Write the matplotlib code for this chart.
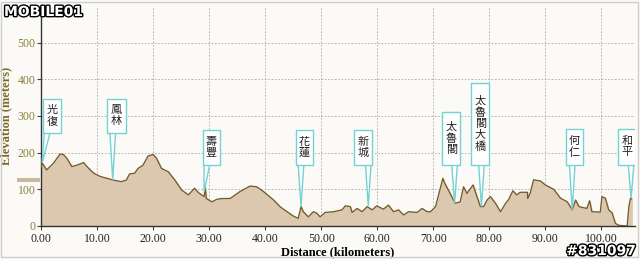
import numpy as np
import matplotlib.pyplot as plt
from matplotlib.patches import Polygon, Rectangle
import matplotlib.patheffects as pe

# elevation profile
dist_km = [0.0, 0.2, 1.0, 2.2, 3.4, 4.0, 4.6, 5.5, 6.4, 7.6, 8.2, 9.4, 10.6, 11.8, 13.0,
           14.3, 15.2, 15.8, 16.7, 17.3, 18.2, 19.1, 20.0, 20.6, 21.5, 22.7, 23.9, 25.1,
           26.3, 27.4, 28.1, 29.1, 29.3, 29.5, 30.5, 31.4, 32.3, 33.75, 35.5, 37.3, 38.5,
           39.7, 41.5, 42.7, 43.9, 45.05, 45.9, 46.4, 46.8, 47.7, 48.6, 49.2, 49.8, 50.7,
           52.2, 53.7, 54.3, 55.2, 55.5, 56.4, 57.3, 58.2, 59.1, 59.9, 61.1, 62.0, 62.9,
           63.8, 64.7, 65.6, 67.1, 68.0, 68.9, 69.5, 70.4, 71.25, 71.7, 72.1, 73.0, 73.9,
           74.8, 75.4, 76.0, 77.1, 77.8, 78.4, 79.0, 79.6, 80.2, 81.1, 82.0, 82.9, 83.4,
           84.2, 84.9, 85.5, 86.8, 86.85, 87.3, 87.9, 89.1, 90.0, 91.5, 92.7, 93.9, 94.8,
           95.4, 96.0, 97.4, 97.9, 98.3, 99.8, 100.1, 100.7, 101.3, 101.9, 102.5, 103.1,
           104.6, 104.9, 105.2, 105.4]
elev_m = [160, 172, 153, 171, 196, 195, 185, 162, 166, 173, 162, 144, 135, 130, 125,
          121, 125, 142, 144, 157, 166, 191, 195, 185, 157, 148, 125, 98,
          85, 103, 91, 80, 105, 75, 66, 73, 75, 75, 94, 109, 107,
          94, 71, 52, 39, 27, 21, 53, 39, 25, 39, 35, 25, 37,
          39, 44, 55, 53, 37, 48, 39, 53, 44, 55, 46, 57, 39,
          44, 30, 39, 37, 48, 39, 39, 53, 103, 130, 115, 89, 62,
          66, 107, 89, 112, 80, 53, 53, 71, 80, 62, 39, 62, 71,
          96, 85, 92, 92, 75, 90, 126, 123, 112, 100, 76, 66, 44,
          71, 53, 48, 69, 39, 38, 80, 76, 44, 36, 7, 2,
          0, 53, 76, 74]

# place-name callouts
town_names = ["光復", "鳳林", "壽豐", "花蓮", "新城", "太魯閣", "太魯閣大橋", "何仁", "和平"]
tip_km = [0.2, 12.8, 29.1, 46.4, 58.4, 73.8, 78.6, 94.8, 105.3]
tip_m = [172, 126, 93, 53, 55, 62, 53, 44, 76]
box_left_km = [0.4, 11.8, 28.9, 45.5, 55.9, 71.6, 76.8, 93.6, 103.0]
box_right_km = [3.6, 15.2, 31.9, 48.6, 59.1, 74.8, 80.0, 96.8, 106.2]
box_top_m = [347, 347, 262, 262, 262, 311, 391, 265, 265]
box_bottom_m = [254, 254, 167, 167, 167, 167, 167, 167, 167]

x_ticks = np.arange(0, 101, 10)
y_ticks = np.arange(0, 501, 100)

plt.rcParams['font.family'] = ['Liberation Serif', 'Noto Sans CJK TC', 'DejaVu Sans']

fig = plt.figure(figsize=(6.4, 2.59), dpi=100, facecolor='#fbfaf6')
ax = fig.add_axes([41 / 640, 33 / 259, 594 / 640, 220 / 259])
ax.set_facecolor('#fbfaf6')

ax.fill_between(dist_km, elev_m, 0, color='#dcc8ae', zorder=2)
ax.plot(dist_km, elev_m, color='#6e5a2c', lw=0.9, zorder=3)

ax.set_xlim(0, 106)
ax.set_ylim(0, 600)
ax.set_xticks(x_ticks)
ax.set_xticklabels([f"{v:.2f}" for v in x_ticks], fontsize=8.5, color='#222222')
ax.set_yticks(y_ticks)
ax.set_yticklabels([str(v) for v in y_ticks], fontsize=8.5, color='#8c7f3e')
ax.grid(True, color='#aaaaaa', ls=(0, (2, 2)), lw=0.6, zorder=1)
ax.tick_params(axis='both', length=3, width=0.8, color='#444444', pad=1)
ax.tick_params(axis='x', pad=2)
for s in ['top', 'right']:
    ax.spines[s].set_visible(False)
for s in ['left', 'bottom']:
    ax.spines[s].set_color('#333333')
    ax.spines[s].set_linewidth(1.0)

ax.set_xlabel("Distance (kilometers)", fontsize=9, fontweight='bold', labelpad=1)
ax.set_ylabel("Elevation (meters)", fontsize=9, fontweight='bold', color='#7a6a2a', labelpad=4)

# callout boxes with pointers
for name, tx, ty, bl, br, bt, bb in zip(town_names, tip_km, tip_m, box_left_km,
                                          box_right_km, box_top_m, box_bottom_m):
    bc = min(max(tx, bl + 0.7), br - 0.7)
    ptr = Polygon([[bc - 0.5, bb], [tx, ty], [bc + 0.5, bb]], closed=False,
                  facecolor='white', edgecolor='#72d2d6', lw=1.0, zorder=4)
    ax.add_patch(ptr)
    box = Rectangle((bl, bb), br - bl, bt - bb, facecolor='white',
                    edgecolor='#72d2d6', lw=1.0, zorder=5)
    ax.add_patch(box)
    ax.text((bl + br) / 2, (bt + bb) / 2, "\n".join(name), ha='center', va='center',
            fontsize=8, linespacing=1.15, family=['Noto Sans CJK TC', 'DejaVu Sans'],
            color='#222222', zorder=6)

# frame, logo and slider mark
fig.patches.append(Rectangle((1 / 640, 2 / 259), 637 / 640, 255 / 259, transform=fig.transFigure,
                             fill=False, edgecolor='#cfcfcf', lw=1.0))
fig.patches.append(Rectangle((17 / 640, 77 / 259), 23 / 640, 4 / 259, transform=fig.transFigure,
                             facecolor='#c9b99c', edgecolor='none'))
fig.text(4 / 640, 1 - 12 / 259, "MOBILE01", fontsize=10, fontweight='bold',
         family=['DejaVu Sans'], color='white', va='center', ha='left',
         path_effects=[pe.withStroke(linewidth=2, foreground='black')])
fig.text(636 / 640, 8 / 259, "#831097", fontsize=10, fontweight='bold',
         family=['DejaVu Sans'], color='white', va='center', ha='right',
         path_effects=[pe.withStroke(linewidth=2, foreground='black')])

fig.savefig('out.png', dpi=100, facecolor=fig.get_facecolor())
